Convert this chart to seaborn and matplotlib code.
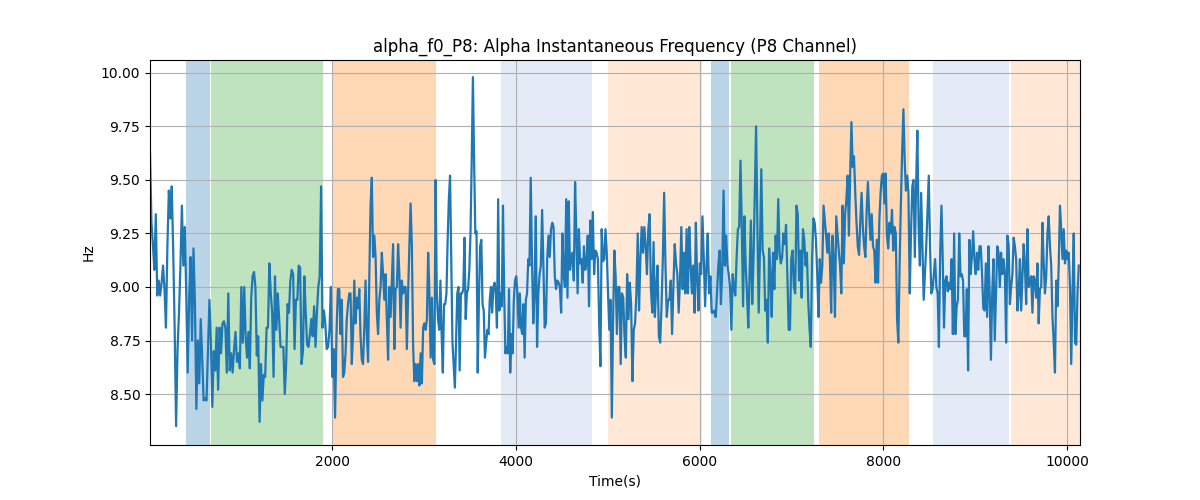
import matplotlib
matplotlib.use("Agg")
import matplotlib.pyplot as plt
from matplotlib.ticker import MultipleLocator
import seaborn as sns
import numpy as np
import pandas as pd

# segment edges in seconds (each list of values below covers one segment)
edges = [15, 1041, 2076, 3112, 4147, 5182, 6218, 7253, 8288, 9324, 10142]

seg1 = [9.63, 9.30, 9.20, 9.08, 9.34, 8.96, 9.03, 8.96, 9.02, 9.10, 8.99, 8.81, 9.19,
        9.45, 9.32, 9.47, 9.17, 8.81, 8.35, 8.71, 8.88, 9.10, 9.38, 9.10, 9.28, 8.97,
        8.60, 8.94, 9.14, 8.75, 9.18, 8.92, 8.43, 8.75, 8.55, 8.85, 8.67, 8.47, 8.48,
        8.47, 8.70, 8.94, 8.74, 8.44, 8.70, 8.61, 8.81, 8.52, 8.81, 8.69, 8.83, 8.84,
        8.81, 8.60, 8.97, 8.61, 8.69, 8.60, 8.71, 8.79, 8.65, 8.69, 8.62, 9.00, 8.74]
seg2 = [9.00, 8.77, 8.67, 8.79, 8.62, 8.95, 9.05, 9.07, 9.00, 8.68, 8.77, 8.37, 8.64,
        8.47, 8.59, 8.58, 8.81, 8.81, 9.11, 8.97, 8.88, 8.58, 9.05, 8.80, 8.97, 8.85,
        8.72, 8.72, 8.72, 8.50, 8.64, 8.92, 8.88, 9.03, 9.08, 9.06, 8.71, 8.94, 8.94,
        9.10, 9.09, 8.64, 8.70, 9.05, 8.88, 8.73, 8.72, 8.78, 8.85, 8.77, 8.91, 8.72,
        8.88, 9.00, 9.05, 9.47, 8.81, 8.89, 8.83, 8.71, 8.72, 8.80, 9.00, 8.58, 8.71,
        8.39, 8.78, 8.99]
seg3 = [8.99, 8.78, 8.94, 8.58, 8.60, 8.69, 8.85, 8.92, 8.97, 8.97, 8.64, 8.78, 9.03,
        8.83, 8.95, 8.90, 8.99, 8.77, 8.66, 8.64, 8.81, 9.03, 8.78, 8.65, 9.05, 9.38,
        9.51, 9.14, 9.24, 9.14, 8.88, 8.78, 8.94, 9.00, 9.16, 9.06, 8.94, 9.06, 8.85,
        8.66, 9.00, 8.86, 9.03, 9.20, 8.71, 8.99, 9.00, 9.20, 9.06, 8.81, 9.03, 8.97,
        9.00, 9.00, 8.71, 8.97, 9.19, 9.39, 9.19, 8.72, 8.56, 8.64, 8.56, 8.64, 8.54,
        8.69, 8.55, 8.81, 8.83, 8.80, 8.85, 9.16, 8.97, 8.67, 8.95, 8.66]
seg4 = [8.64, 9.50, 8.97, 8.85, 8.80, 9.03, 8.78, 8.60, 8.92, 8.92, 8.97, 9.22, 9.41,
        9.52, 9.13, 8.74, 8.63, 8.53, 8.75, 8.97, 9.00, 8.61, 8.97, 8.97, 8.99, 9.23,
        8.85, 8.97, 8.99, 9.08, 9.25, 9.59, 9.98, 9.59, 9.25, 9.26, 8.60, 8.94, 9.19,
        9.22, 8.92, 8.89, 8.67, 8.74, 8.80, 8.78, 8.94, 9.00, 8.88, 9.00, 9.02, 8.97,
        8.81, 9.41, 8.89, 8.97, 8.91, 9.38, 8.97, 8.69, 8.72, 8.69, 8.99, 8.60, 8.78,
        8.69, 8.94, 9.03, 9.05, 8.97, 8.81, 8.97, 8.81, 8.78, 8.92, 8.67, 8.94, 8.97,
        9.13]
seg5 = [9.10, 9.51, 9.13, 8.83, 8.97, 9.33, 8.72, 8.97, 9.06, 9.10, 9.36, 9.10, 8.81,
        8.83, 9.13, 9.24, 9.14, 9.27, 9.30, 9.28, 9.05, 8.99, 9.03, 9.02, 9.00, 8.88,
        9.25, 9.06, 9.00, 9.41, 8.95, 9.40, 9.08, 9.13, 9.16, 9.03, 9.49, 9.25, 8.97,
        9.27, 9.11, 9.13, 9.02, 9.19, 9.08, 9.11, 9.24, 8.91, 9.31, 9.13, 9.35, 9.06,
        9.17, 9.16, 9.13, 8.83, 8.63, 9.27, 9.12, 9.13, 9.27, 9.16, 8.97, 8.80, 8.94,
        8.39, 8.85, 9.17, 9.05, 8.78, 9.00, 9.00, 8.64, 8.97, 8.95]
seg6 = [8.77, 8.67, 9.06, 8.85, 9.02, 8.92, 8.56, 8.80, 8.83, 8.97, 9.25, 8.89, 9.13,
        9.28, 9.16, 9.28, 9.19, 9.06, 9.27, 9.34, 8.99, 8.88, 9.21, 8.86, 9.00, 9.10,
        8.77, 8.74, 8.91, 9.13, 9.44, 9.10, 8.86, 8.94, 8.94, 9.03, 8.78, 9.00, 9.20,
        9.11, 9.06, 8.88, 9.03, 9.28, 8.99, 9.16, 8.97, 9.27, 8.97, 9.28, 9.11, 8.97,
        9.10, 8.88, 9.30, 9.03, 8.89, 9.11, 9.06, 9.33, 9.13, 8.91, 9.10, 9.25, 8.97,
        9.05, 8.88, 8.88, 8.89, 8.86, 8.97, 9.10]
seg7 = [9.17, 8.92, 9.08, 9.45, 9.10, 9.24, 9.10, 9.06, 9.00, 8.80, 9.06, 8.99, 8.96,
        9.13, 9.27, 9.28, 9.59, 9.28, 8.91, 9.33, 9.10, 8.97, 8.81, 9.05, 9.31, 8.92,
        9.13, 9.44, 9.75, 9.28, 8.88, 9.19, 9.55, 9.17, 9.14, 8.89, 8.94, 8.74, 9.18,
        9.06, 8.86, 9.16, 8.99, 9.24, 9.13, 9.41, 9.16, 9.11, 9.14, 9.25, 9.20, 9.29,
        9.06, 8.80, 8.80, 9.13, 9.17, 9.00, 8.97, 9.38, 9.34, 9.03, 9.17, 8.95, 9.27,
        9.22, 9.10, 9.16, 8.94, 8.81, 8.72, 9.13, 9.32]
seg8 = [9.30, 9.22, 9.06, 8.86, 9.13, 9.02, 9.10, 9.38, 9.31, 9.24, 9.16, 9.25, 9.13,
        8.88, 9.24, 9.13, 8.86, 9.33, 9.25, 9.17, 9.10, 8.97, 9.38, 9.11, 9.34, 9.41,
        9.52, 9.24, 9.53, 9.77, 9.56, 9.61, 9.44, 9.30, 9.19, 9.15, 9.31, 9.44, 9.28,
        9.19, 9.14, 9.36, 9.49, 9.34, 9.22, 9.34, 9.19, 9.17, 9.02, 9.22, 9.02, 9.31,
        9.44, 9.52, 9.53, 9.39, 9.53, 9.24, 9.18, 9.30, 9.25, 9.36, 9.17, 9.28, 9.25,
        8.85, 8.74, 9.10, 9.39, 9.63, 9.83, 9.59, 9.45, 9.52, 9.44]
seg9 = [8.97, 9.25, 9.47, 9.50, 9.14, 9.47, 9.73, 9.28, 9.10, 9.44, 9.19, 8.94, 9.06,
        9.19, 9.36, 9.52, 9.19, 8.97, 8.99, 9.06, 9.13, 9.00, 8.97, 8.72, 9.16, 9.38,
        9.13, 8.81, 9.03, 9.05, 8.98, 9.02, 8.99, 9.13, 8.78, 9.25, 8.78, 8.91, 8.94,
        9.25, 9.05, 9.06, 9.03, 8.77, 8.77, 8.99, 8.61, 9.22, 9.06, 9.14, 9.26, 9.13,
        9.06, 9.16, 9.08, 9.19, 9.19, 9.06, 8.90, 8.89, 9.11, 8.86, 9.19, 8.97, 8.66,
        8.97, 9.13, 8.75, 8.97, 9.19, 9.16, 9.00, 9.16, 9.06, 9.13]
seg10 = [9.06, 8.74, 9.24, 9.20, 8.92, 9.00, 9.06, 9.23, 9.19, 9.13, 8.89, 8.97, 9.13,
         8.89, 9.05, 9.20, 9.10, 8.92, 9.27, 9.00, 9.02, 9.05, 8.88, 9.05, 9.03, 8.95,
         9.11, 8.83, 8.99, 9.00, 9.30, 9.11, 8.97, 9.05, 9.25, 9.33, 9.19, 9.10, 8.86,
         8.74, 8.60, 9.03, 8.91, 9.10, 9.38, 9.27, 9.13, 9.27, 9.11, 9.17, 9.13, 9.16,
         9.00, 8.64, 8.97, 9.25, 8.74, 8.73, 8.97, 9.10]

segments = [seg1, seg2, seg3, seg4, seg5, seg6, seg7, seg8, seg9, seg10]

# shaded intervals (start, end)
strong_blue = [(409, 667), (6120, 6324)]
strong_green = [(681, 1894), (6338, 7250)]
strong_orange = [(2011, 3130), (7297, 8275)]
light_blue = [(3842, 4823), (8543, 9368)]
light_orange = [(4997, 6025), (9390, 10160)]

times = []
vals = []
for i, seg in enumerate(segments):
    times.extend(np.linspace(edges[i], edges[i + 1], len(seg), endpoint=False))
    vals.extend(seg)
df = pd.DataFrame({"t": times, "hz": vals})

fig, ax = plt.subplots(figsize=(12, 5), dpi=100)

for a, b in strong_blue:
    ax.axvspan(a, b, color="tab:blue", alpha=0.3, linewidth=0)
for a, b in strong_green:
    ax.axvspan(a, b, color="tab:green", alpha=0.3, linewidth=0)
for a, b in strong_orange:
    ax.axvspan(a, b, color="tab:orange", alpha=0.3, linewidth=0)
for a, b in light_blue:
    ax.axvspan(a, b, color="#e4ebf6", linewidth=0)
for a, b in light_orange:
    ax.axvspan(a, b, color="tab:orange", alpha=0.17, linewidth=0)

sns.lineplot(data=df, x="t", y="hz", ax=ax, color="tab:blue", linewidth=1.6)

ax.set_xlim(15, 10142)
ax.set_ylim(8.262, 10.06)
ax.yaxis.set_major_locator(MultipleLocator(0.25))
ax.grid(True)
ax.set_title("alpha_f0_P8: Alpha Instantaneous Frequency (P8 Channel)")
ax.set_xlabel("Time(s)")
ax.set_ylabel("Hz")

fig.savefig("out.png")
